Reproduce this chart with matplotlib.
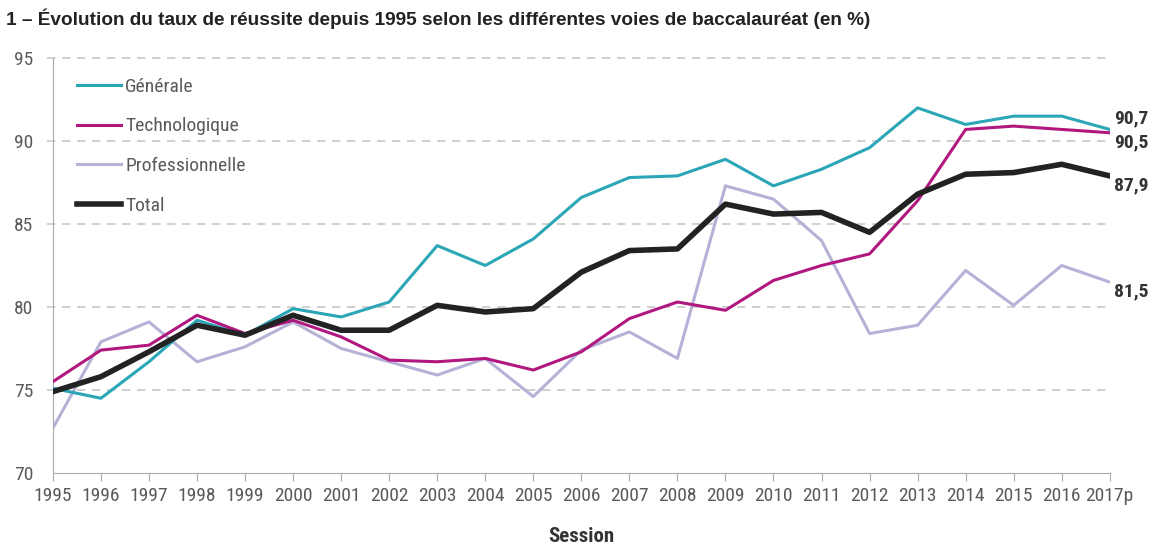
import matplotlib.pyplot as plt
import numpy as np

years = ["1995", "1996", "1997", "1998", "1999", "2000", "2001", "2002", "2003", "2004",
         "2005", "2006", "2007", "2008", "2009", "2010", "2011", "2012", "2013", "2014",
         "2015", "2016", "2017p"]

generale = [75.1, 74.5, 76.7, 79.2, 78.3, 79.9, 79.4, 80.3, 83.7, 82.5, 84.1, 86.6,
            87.8, 87.9, 88.9, 87.3, 88.3, 89.6, 92.0, 91.0, 91.5, 91.5, 90.7]
techno = [75.5, 77.4, 77.7, 79.5, 78.4, 79.2, 78.2, 76.8, 76.7, 76.9, 76.2, 77.3,
          79.3, 80.3, 79.8, 81.6, 82.5, 83.2, 86.4, 90.7, 90.9, 90.7, 90.5]
pro = [72.7, 77.9, 79.1, 76.7, 77.6, 79.1, 77.5, 76.7, 75.9, 76.9, 74.6, 77.4,
       78.5, 76.9, 87.3, 86.5, 84.0, 78.4, 78.9, 82.2, 80.1, 82.5, 81.5]
total = [74.9, 75.8, 77.3, 78.9, 78.3, 79.5, 78.6, 78.6, 80.1, 79.7, 79.9, 82.1,
         83.4, 83.5, 86.2, 85.6, 85.7, 84.5, 86.8, 88.0, 88.1, 88.6, 87.9]

end_labels = ["90,7", "90,5", "87,9", "81,5"]

NARROW = ["Roboto Condensed", "DejaVu Sans"]
GREY = "#5a5a5a"

fig = plt.figure(figsize=(11.5, 5.48), dpi=100)
ax = fig.add_axes([0.046, 0.137, 0.919, 0.757])

x = np.arange(len(years))
ax.plot(x, generale, color="#2ba6b6", lw=2.2, label="Générale", zorder=3)
ax.plot(x, techno, color="#b1187f", lw=2.2, label="Technologique", zorder=3)
ax.plot(x, pro, color="#b5b2d8", lw=2.2, label="Professionnelle", zorder=2)
ax.plot(x, total, color="#222222", lw=4, label="Total", zorder=4)

ax.set_xlim(0, len(years) - 1)
ax.set_ylim(70, 95)
ax.set_yticks([70, 75, 80, 85, 90, 95])
ax.set_xticks(x)
ax.set_xticklabels(years)

# dashed horizontal guides, starting a little left of the axis
for v in [75, 80, 85, 90, 95]:
    ax.plot([-0.12, len(years) - 1], [v, v], color="#c8c8c8", lw=1.2,
            ls=(0, (5, 4)), zorder=1, clip_on=False)

for s in ["top", "right"]:
    ax.spines[s].set_visible(False)
ax.spines["left"].set_color("#aaaaaa")
ax.spines["bottom"].set_color("#aaaaaa")
ax.tick_params(axis="x", colors="#aaaaaa", length=6, labelcolor=GREY, pad=4)
ax.tick_params(axis="y", length=0, labelcolor=GREY, pad=14)
for t in ax.get_xticklabels() + ax.get_yticklabels():
    t.set_family(NARROW)
    t.set_fontsize(14)

ax.set_xlabel("Session", family=NARROW, fontsize=15, fontweight="bold",
              color="#333333", labelpad=16)

leg = ax.legend(loc="upper left", bbox_to_anchor=(0.006, 0.995), frameon=False,
                handlelength=2.3, handletextpad=0.2, labelspacing=1.12,
                prop={"family": NARROW, "size": 14})
for t in leg.get_texts():
    t.set_color(GREY)

last = len(years) - 1
offsets = [(3, 8), (3, -7), (3, -6.5), (3, -7)]
for series, lab, off in zip([generale, techno, total, pro], end_labels, offsets):
    ax.annotate(lab, (last, series[-1]), xytext=off, textcoords="offset points",
                family=NARROW, fontsize=14, fontweight="bold", color="#333333",
                va="center", ha="left", annotation_clip=False)

fig.text(0.005, 0.965, "1 – Évolution du taux de réussite depuis 1995 selon les différentes voies de baccalauréat (en %)",
         fontsize=13.7, fontweight="bold", family="Liberation Sans", color="#222222",
         va="center")

fig.savefig("out.png", dpi=100)
